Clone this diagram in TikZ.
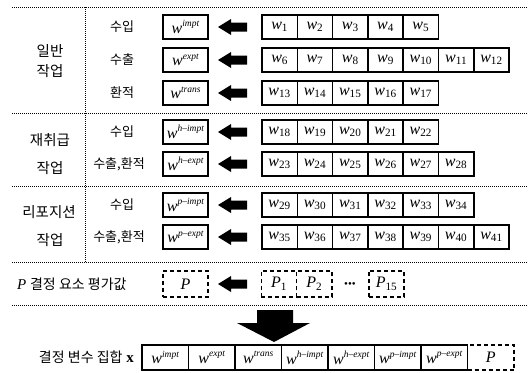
\documentclass[tikz,border=0pt]{standalone}
\usepackage{fontspec}
\setmainfont{Liberation Serif}
\newfontfamily\kr{Noto Sans CJK KR}
\newcommand\wsup[1]{\textit{w}\raisebox{0.42em}{\fontsize{9.5}{10}\selectfont\textit{#1}}}
\newcommand\wsub[1]{\textit{w}\textsubscript{#1}}
\newcommand\leftarr[2]{\fill (#1,#2) -- ++(13,-8) -- ++(0,3.5) -- ++(16,0) -- ++(0,9) -- ++(-16,0) -- ++(0,3.5) -- cycle;}
\tikzset{
  sepline/.style={densely dotted, line width=1pt},
  wbox/.style={draw, line width=1.6pt, minimum width=45pt, minimum height=24pt, inner sep=0pt, font=\fontsize{16}{16}\selectfont},
  sbox/.style={draw, line width=1.6pt, minimum width=35.3pt, minimum height=24pt, inner sep=0pt, font=\fontsize{16}{16}\selectfont},
  bbox/.style={draw, line width=1.6pt, minimum width=46.5pt, minimum height=25pt, inner sep=0pt, font=\fontsize{16}{16}\selectfont},
  dbox/.style={dashed, dash pattern=on 4pt off 3pt},
  grp/.style={font=\kr\fontsize{14.5}{16}\selectfont, inner sep=0pt},
  rowlab/.style={font=\kr\fontsize{13}{14}\selectfont, inner sep=0pt},
}
\begin{document}
\begin{tikzpicture}[x=1pt,y=-1pt]
\path[fill=white,use as bounding box] (0,0) rectangle (529,372);
% separators
\foreach \yy in {7,113,186,262,305} { \draw[sepline] (12,\yy) -- (527,\yy); }
\draw[sepline] (85,7) -- (85,262);
% group labels
\node[grp] (g1a) at (50,51) {일반};
\node[grp] (g1b) at (50,71) {작업};
\node[grp] (g2a) at (50,140) {재취급};
\node[grp] (g2b) at (50,168) {작업};
\node[grp] (g3a) at (49,212) {리포지션};
\node[grp] (g3b) at (50,240) {작업};
% row labels
\node[rowlab] (l1) at (122,27) {수입};
\node[rowlab] (l2) at (122,60) {수출};
\node[rowlab] (l3) at (122,93) {환적};
\node[rowlab] (l4) at (122,132) {수입};
\node[rowlab] (l5) at (119,164) {수출,환적};
\node[rowlab] (l6) at (122,205) {수입};
\node[rowlab] (l7) at (119,237) {수출,환적};
% aggregate boxes
\node[wbox] (W1) at (185.5,27) {\wsup{impt}};
\node[wbox] (W2) at (185.5,60) {\wsup{expt}};
\node[wbox] (W3) at (185.5,93) {\wsup{trans}};
\node[wbox] (W4) at (185.5,132) {\wsup{h–impt}};
\node[wbox] (W5) at (185.5,164) {\wsup{h–expt}};
\node[wbox] (W6) at (185.5,205) {\wsup{p–impt}};
\node[wbox] (W7) at (185.5,237) {\wsup{p–expt}};
% arrows and element boxes
\foreach \r/\yy/\s/\n in {1/27/1/5, 2/60/6/7, 3/93/13/5, 4/132/18/5, 5/164/23/6, 6/205/29/6, 7/237/35/7} {
  \leftarr{218}{\yy}
  \foreach \k in {1,...,\n} {
    \pgfmathtruncatemacro\idx{\s+\k-1}
    \node[sbox] (r\r b\k) at ({262+35.3*(\k-0.5)},\yy) {\wsub{\idx}};
  }
}
% P row
\node[anchor=west, inner sep=0pt, font=\fontsize{15}{16}\selectfont] (plab) at (17,284) {\textit{P} {\kr\fontsize{14}{16}\selectfont 결정 요소 평가값}};
\node[wbox, dbox, minimum height=26pt] (PB) at (185.5,284) {\textit{P}};
\leftarr{218}{284}
\node[sbox, dbox, minimum height=26pt] (p1) at (279,284) {\textit{P}\textsubscript{1}};
\node[sbox, dbox, minimum height=26pt] (p2) at (314.3,284) {\textit{P}\textsubscript{2}};
\node[font=\fontsize{11}{11}\selectfont, inner sep=0pt] (pd) at (350,285) {\textbullet\textbullet\textbullet};
\node[sbox, dbox, minimum height=26pt] (p15) at (386.5,284) {\textit{P}\textsubscript{15}};
% big arrow
\fill (257,310) -- (293,310) -- (293,323) -- (310,323) -- (274,342) -- (237,323) -- (257,323) -- cycle;
% bottom row
\node[anchor=east, inner sep=0pt, font=\fontsize{15}{16}\selectfont] (blab) at (134,357.5) {{\kr\fontsize{14}{16}\selectfont 결정 변수 집합} \textbf{x}};
\foreach \k/\t in {1/impt, 2/expt, 3/trans, 4/h–impt, 5/h–expt, 6/p–impt, 7/p–expt} {
  \node[bbox] (b\k) at ({142+46.5*(\k-0.5)},357.5) {\wsup{\t}};
}
\node[bbox, dbox] (b8) at ({142+46.5*7.5},357.5) {\textit{P}};
\end{tikzpicture}
\end{document}
